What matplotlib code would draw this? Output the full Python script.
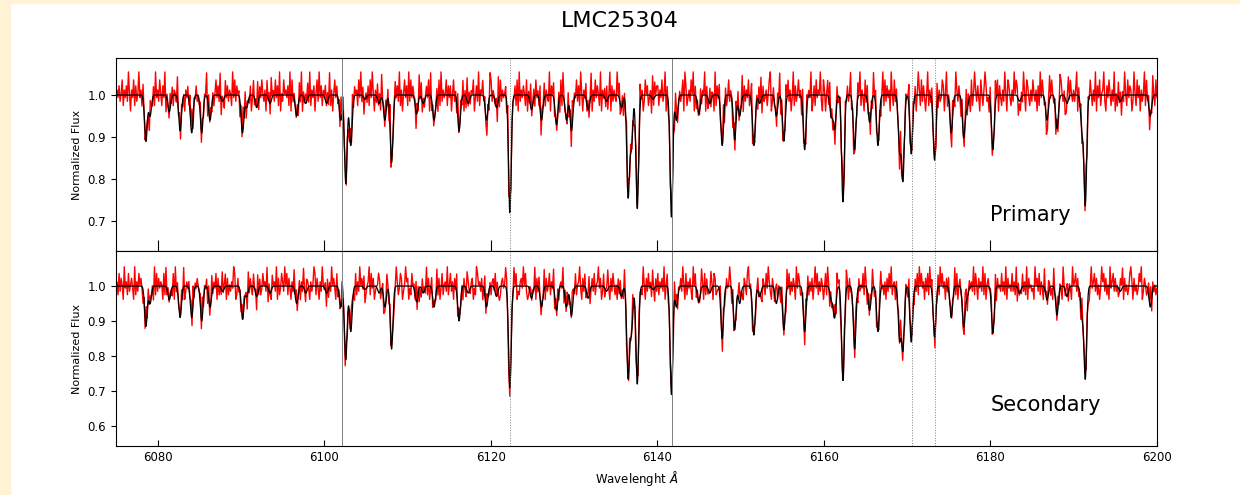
import numpy as np
import matplotlib
matplotlib.use('Agg')
import matplotlib.pyplot as plt
from matplotlib.patches import Rectangle

line_center = [6078.6, 6079.1, 6081.4, 6082.7, 6084.1, 6085.3, 6086.3, 6087.8,
               6090.2, 6090.7, 6091.9, 6093.5, 6096.7, 6097.8, 6100.3, 6102.0,
               6102.6, 6103.2, 6104.9, 6106.6, 6107.3, 6108.1, 6111.1, 6111.9,
               6113.2, 6116.2, 6117.3, 6119.5, 6120.7, 6122.3, 6124.9, 6126.1,
               6127.9, 6129.1, 6129.7, 6131.7, 6133.9, 6135.7, 6136.5, 6136.9,
               6137.6, 6139.5, 6141.7, 6142.3, 6145.0, 6146.3, 6147.8, 6149.3,
               6149.9, 6151.6, 6152.3, 6154.3, 6155.2, 6157.7, 6160.9, 6161.3,
               6162.3, 6163.7, 6165.5, 6166.5, 6169.1, 6169.5, 6170.5, 6173.3,
               6175.3, 6176.8, 6177.2, 6180.3, 6183.5, 6186.8, 6188.0, 6189.2,
               6191.0, 6191.4, 6195.6, 6199.2]
depth_primary = [0.11, 0.05, 0.04, 0.085, 0.09, 0.09, 0.06, 0.015,
                 0.09, 0.03, 0.03, 0.02, 0.05, 0.02, 0.02, 0.06,
                 0.21, 0.12, 0.01, 0.02, 0.06, 0.16, 0.045, 0.02,
                 0.06, 0.085, 0.02, 0.06, 0.03, 0.28, 0.035, 0.06,
                 0.07, 0.06, 0.085, 0.035, 0.015, 0.03, 0.24, 0.12,
                 0.27, 0.01, 0.29, 0.06, 0.045, 0.02, 0.12, 0.107,
                 0.05, 0.12, 0.02, 0.05, 0.11, 0.13, 0.05, 0.08,
                 0.254, 0.13, 0.065, 0.12, 0.13, 0.2, 0.14, 0.155,
                 0.09, 0.10, 0.03, 0.13, 0.015, 0.06, 0.08, 0.02,
                 0.08, 0.26, 0.015, 0.05]
depth_secondary = [0.115, 0.05, 0.04, 0.09, 0.09, 0.10, 0.06, 0.015,
                   0.095, 0.03, 0.03, 0.02, 0.05, 0.02, 0.02, 0.06,
                   0.21, 0.13, 0.01, 0.02, 0.06, 0.18, 0.045, 0.02,
                   0.06, 0.10, 0.02, 0.06, 0.03, 0.29, 0.035, 0.06,
                   0.07, 0.06, 0.085, 0.035, 0.015, 0.03, 0.26, 0.13,
                   0.28, 0.01, 0.31, 0.06, 0.045, 0.02, 0.15, 0.125,
                   0.05, 0.14, 0.03, 0.05, 0.125, 0.13, 0.04, 0.09,
                   0.27, 0.18, 0.07, 0.13, 0.15, 0.18, 0.16, 0.145,
                   0.09, 0.116, 0.03, 0.135, 0.02, 0.04, 0.083, 0.03,
                   0.08, 0.263, 0.015, 0.06]
line_sigma = 0.16

# observed (red) residual pattern, one digit per sample, digit -> flux offset
noise_levels = [-0.05, -0.038, -0.025, -0.015, -0.006, 0.003, 0.012, 0.022, 0.036, 0.055]
noise_primary = (
    "5647358264739516482735946285376418537294"
    "6385274916538472653948273516473859264735"
    "4827365918473625847391652847365294837561"
    "7394826537148365927485361847295638472915"
    "3856472918365472839164758392647158394726"
    "5847392615847362958473621849375628493715"
    "6372849516384729563847192635847392615847"
    "2938475617394826357481926354718293645827"
    "4715836294573816294736581473926584731629"
    "8365471928364572918365472819364752816493"
    "5728463917582643917582634718295463827195"
    "6483729516483725916384752916473825917364"
    "3958247163958274613857294613857246193857"
    "7264835917264835197246358197246385917264"
    "4836591724836519274836591724836517294836"
    "5917364825917346285917346258913746285917"
    "2749583614927358461937285649137284659318"
    "6158394726158347296184735926147385926418"
    "3847162958374615928374619528374619258374"
    "5926384715962837415926384751926348715926"
    "7418529637418526937418259637418526973418"
    "4263958174263951874263958714263951874263"
    "8536172948536127948536172498536127948536"
    "3691748256391748526391748256931748526391"
    "5284716395284761395284716359284716395284")
noise_secondary = (
    "4628375194628357419263857416293847561928"
    "3746518293746528193746582913647582936475"
    "5829364718259364817253946817253649812735"
    "2847561937428561937248563917428563917248"
    "6395827416395824716395287416359827416395"
    "4718263957418263597418236597418263957481"
    "3569284713569824713596284731596248713596"
    "7142856392714285639271482563927148256392"
    "5836174928536174298536714298563714928536"
    "2674958312674598312674958132674958312674"
    "6491738526491735826491738256491738526497"
    "3825694173825691473825694713825694173852"
    "5173846295173846925173864295173846295173"
    "8264739158264731958264739518264731958264"
    "4596182734596187234596182374596182734596"
    "6317528946317525846317528496317528946318"
    "7351948263751948623751948263715948263751"
    "4829617354829671354829617345829617354829"
    "6173849526173894526173849256173849526173"
    "2958461738295846173829584617382958461738"
    "5746392815746329815746392851746392815746"
    "8362917453836291745383629174538362917453"
    "4195738264195738624195738264195378264195"
    "6837251946837215946837251496837251946837"
    "3524869173524896173524869137524869173524")

guide_lines = [6102.2, 6122.3, 6141.8, 6170.6, 6173.4]
guide_style = ['-', ':', '-', ':', ':']


def spectrum(wl, depths):
    flux = np.ones_like(wl)
    for c, d in zip(line_center, depths):
        flux -= d * np.exp(-0.5 * ((wl - c) / line_sigma) ** 2)
    return flux


wl_model = np.arange(6075, 6200.01, 0.02)

fig = plt.figure(figsize=(12.4, 4.95), dpi=100)
fig.patches.append(Rectangle((0, 0), 10 / 1240., 1, transform=fig.transFigure,
                             color='#fff2d5', zorder=-1))
fig.patches.append(Rectangle((0, 1 - 3 / 495.), 1, 3 / 495., transform=fig.transFigure,
                             color='#fff2d5', zorder=-1))

panels = [('Primary', depth_primary, noise_primary, (0.629, 1.088), [0.7, 0.8, 0.9, 1.0], 0.70),
          ('Secondary', depth_secondary, noise_secondary, (0.543, 1.1), [0.6, 0.7, 0.8, 0.9, 1.0], 0.644)]
boxes = [[0.0935, 0.4929, 0.8395, 0.3899], [0.0935, 0.099, 0.8395, 0.3939]]

for (name, depths, noise, ylim, yt, ytxt), box in zip(panels, boxes):
    ax = fig.add_axes(box)
    wl_obs = np.linspace(6075, 6200, len(noise))
    resid = np.array([noise_levels[int(ch)] for ch in noise])
    ax.plot(wl_obs, spectrum(wl_obs, depths) + resid, color='red', lw=1.0)
    ax.plot(wl_model, spectrum(wl_model, depths), color='k', lw=0.9)
    for g, ls in zip(guide_lines, guide_style):
        ax.axvline(g, color='grey', lw=0.7, ls=ls)
    ax.set_xlim(6075, 6200)
    ax.set_ylim(ylim)
    ax.set_yticks(yt)
    ax.set_xticks(np.arange(6080, 6201, 20))
    ax.set_ylabel('Normalized Flux', fontsize=8)
    ax.tick_params(axis='y', labelsize=8.5)
    ax.tick_params(axis='x', direction='in', length=8, labelsize=8.5)
    ax.text(6180, ytxt, name, fontsize=15)
    if name == 'Primary':
        ax.set_xticklabels([])
    else:
        ax.tick_params(axis='x', length=4)
        ax.set_xlabel(r'Wavelenght $\AA$', fontsize=8.5)

fig.suptitle('LMC25304', fontsize=16, y=0.978)

plt.savefig('out.png', dpi=100)
plt.close('all')
